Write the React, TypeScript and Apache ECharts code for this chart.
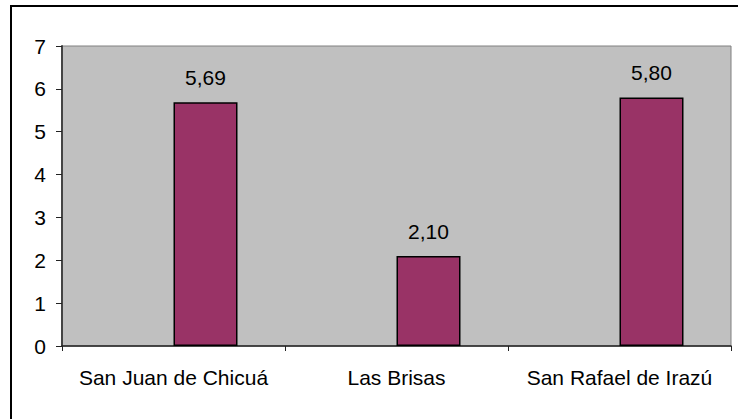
import React, { useEffect, useRef } from "react";
import * as echarts from "echarts";

const categories = ["San Juan de Chicuá", "Las Brisas", "San Rafael de Irazú"];
const values = [5.69, 2.1, 5.8];
const emptySeries = ["-", "-", "-"];
const yMin = 0;
const yMax = 7;
const yInterval = 1;

const FONT = "'Liberation Sans', Arial, sans-serif";

export default function App() {
  const ref = useRef<HTMLDivElement>(null);
  useEffect(() => {
    if (!ref.current) return;
    const chart = echarts.init(ref.current, undefined, { renderer: "svg" });
    chart.setOption({
      animation: false,
      backgroundColor: "#ffffff",
      textStyle: { fontFamily: FONT },
      grid: {
        left: 62,
        top: 46,
        right: 7,
        bottom: 73,
        show: true,
        backgroundColor: "#C0C0C0",
        borderColor: "#808080",
        borderWidth: 1,
      },
      xAxis: {
        type: "category",
        data: categories,
        axisLine: { show: true, lineStyle: { color: "#222", width: 1.5 } },
        axisTick: { show: true, length: 5, lineStyle: { color: "#222" } },
        axisLabel: {
          color: "#000",
          fontSize: 21,
          fontFamily: FONT,
          margin: 21,
          interval: 0,
          hideOverlap: false,
        },
        splitLine: { show: false },
      },
      yAxis: {
        type: "value",
        min: yMin,
        max: yMax,
        interval: yInterval,
        axisLine: { show: true, lineStyle: { color: "#444", width: 2 } },
        axisTick: { show: true, length: 6, lineStyle: { color: "#222" } },
        axisLabel: {
          color: "#000",
          fontSize: 21,
          fontFamily: FONT,
          margin: 16,
        },
        splitLine: { show: false },
      },
      series: [
        {
          type: "bar",
          data: emptySeries,
          barWidth: 64,
          barGap: "0%",
        },
        {
          type: "bar",
          data: values,
          barWidth: 64,
          barGap: "0%",
          itemStyle: { color: "#993366", borderColor: "#000", borderWidth: 1.5 },
          label: {
            show: true,
            position: "top",
            distance: 14,
            color: "#000",
            fontSize: 21,
            fontFamily: FONT,
            formatter: (p: any) => Number(p.value).toFixed(2).replace(".", ","),
          },
        },
      ],
      graphic: [
        {
          type: "line",
          shape: { x1: 10, y1: 6, x2: 738, y2: 6 },
          style: { stroke: "#000", lineWidth: 2 },
        },
        {
          type: "line",
          shape: { x1: 11, y1: 5, x2: 11, y2: 419 },
          style: { stroke: "#000", lineWidth: 2 },
        },
      ],
    });
    return () => chart.dispose();
  }, []);
  return (
    <div
      ref={ref}
      style={{ position: "fixed", left: 0, top: 0, width: 738, height: 419 }}
    />
  );
}
